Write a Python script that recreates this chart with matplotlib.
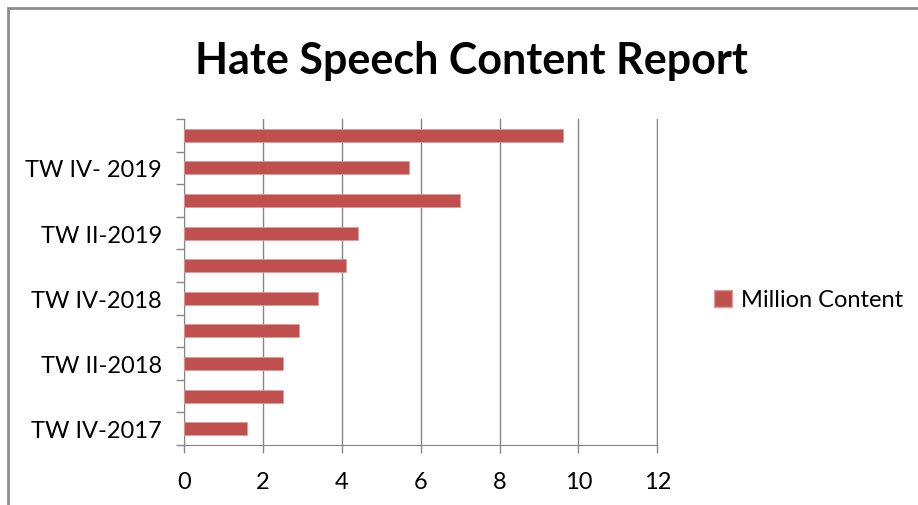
import matplotlib.pyplot as plt
from matplotlib.patches import Rectangle, Patch

plt.rcParams['font.family'] = ['Lato', 'DejaVu Sans']

# categories bottom to top
quarters = ['TW IV-2017', 'TW I-2018', 'TW II-2018', 'TW III-2018', 'TW IV-2018',
            'TW I-2019', 'TW II-2019', 'TW III-2019', 'TW IV- 2019', 'TW I-2020']
million_content = [1.6, 2.5, 2.5, 2.9, 3.4, 4.1, 4.4, 7.0, 5.7, 9.6]
x_ticks = [0, 2, 4, 6, 8, 10, 12]

fig = plt.figure(figsize=(9.18, 5.06), dpi=100)

# chart frame (outer border of the embedded chart)
fig.add_artist(Rectangle((8 / 918, -0.1), 1.2, 1 - 9 / 506 + 0.1, transform=fig.transFigure,
                         fill=False, edgecolor='#8c8c8c', linewidth=2))

ax = fig.add_axes([184.3 / 918, 1 - 446 / 506, (657.3 - 184.3) / 918, (446 - 120) / 506])

pos = list(range(len(quarters)))
ax.barh(pos, million_content, height=0.4, color='#C0504D', edgecolor='#dc9d9b',
        linewidth=0.6, label='Million Content', zorder=3)

ax.set_xlim(0, 12)
ax.set_ylim(-0.5, len(quarters) - 0.5)
ax.set_xticks(x_ticks)
ax.set_xticklabels([str(t) for t in x_ticks], fontsize=17)

# only every other category label is shown
ax.set_yticks(pos[::2])
ax.set_yticklabels(quarters[::2], fontsize=17)
ax.set_yticks([p - 0.5 for p in pos] + [len(quarters) - 0.5], minor=True)
ax.tick_params(axis='y', which='major', length=0, pad=16)
ax.tick_params(axis='y', which='minor', length=6, color='#868686', width=1)
ax.tick_params(axis='x', length=6, color='#868686', width=1, pad=13)

ax.grid(axis='x', color='#868686', linewidth=1, zorder=0)
ax.spines['top'].set_visible(False)
for s in ['left', 'bottom', 'right']:
    ax.spines[s].set_color('#868686')

fig.text(471 / 918, 1 - 61 / 506, 'Hate Speech Content Report', fontsize=31,
         fontweight='bold', ha='center', va='center')

fig.legend(handles=[Patch(facecolor='#C0504D', edgecolor='#dc9d9b', label='Million Content')],
           loc='center left', bbox_to_anchor=(693 / 918, 1 - 301 / 506), frameon=False,
           fontsize=17, handlelength=0.75, handleheight=0.75, handletextpad=0.4)

fig.savefig('out.png', dpi=100)
